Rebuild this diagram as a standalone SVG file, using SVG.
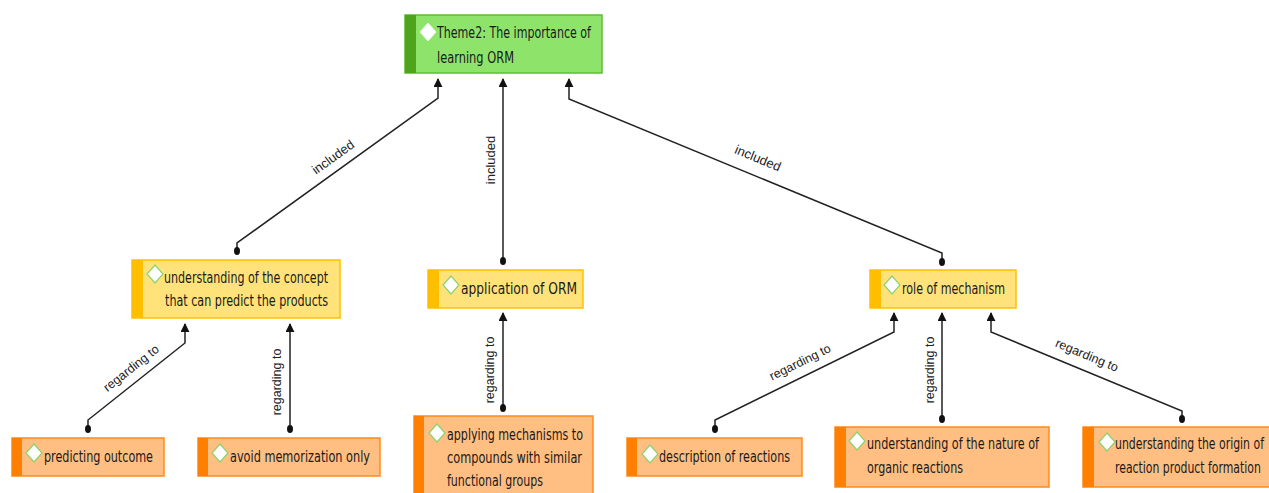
<svg xmlns="http://www.w3.org/2000/svg" width="1269" height="493" viewBox="0 0 1269 493">
<style>
.t{font-family:"DejaVu Sans Condensed","Liberation Sans Narrow",sans-serif;font-size:16px;fill:#1a1a1a}
.lbl{font-family:"Liberation Sans",Arial,sans-serif;font-size:12.5px;fill:#222}
.inc{font-family:"Liberation Sans",Arial,sans-serif;font-size:13px;fill:#222}
.g-box{fill:#8ee46b;stroke:#5cbf2e;stroke-width:1.5}
.g-bar{fill:#4ea51c}
.y-box{fill:#ffe37a;stroke:#ffc000;stroke-width:1.5}
.y-bar{fill:#ffbf00}
.o-box{fill:#ffbe82;stroke:#ff8a1a;stroke-width:1.5}
.o-bar{fill:#ff7f00}
.dia{fill:#fff;stroke:#8fd16a;stroke-width:1.2}
.dia0{fill:#fff;stroke:#e8ffe0;stroke-width:1}
.ln{fill:none;stroke:#222;stroke-width:1.5}
.dot{fill:#111}
</style>
<defs>
<marker id="arr" viewBox="0 0 10 10" refX="9" refY="5" markerWidth="9" markerHeight="9" markerUnits="userSpaceOnUse" orient="auto">
<path d="M0,0 L10,5 L0,10 z" fill="#111"/>
</marker>
</defs>

<g id="connectors">
<path class="ln" d="M237,251 V243 L438,98 V79" marker-end="url(#arr)"/>
<ellipse class="dot" cx="237" cy="251" rx="3" ry="4"/>
<text class="inc" transform="translate(333,157) rotate(-35.8)" text-anchor="middle" dy=".35em">included</text>

<path class="ln" d="M503,261 V79" marker-end="url(#arr)"/>
<ellipse class="dot" cx="503" cy="261" rx="3" ry="4"/>
<text class="inc" transform="translate(490,160) rotate(-90)" text-anchor="middle" dy=".35em">included</text>

<path class="ln" d="M942,262 V253 L569,99 V79" marker-end="url(#arr)"/>
<ellipse class="dot" cx="942" cy="262" rx="3" ry="4"/>
<text class="inc" transform="translate(758,158) rotate(22.4)" text-anchor="middle" dy=".35em">included</text>

<path class="ln" d="M88,429 V420 L185,343 V324" marker-end="url(#arr)"/>
<ellipse class="dot" cx="88" cy="429" rx="3" ry="4"/>
<text class="lbl" transform="translate(131,368) rotate(-38.4)" text-anchor="middle" dy=".35em">regarding to</text>

<path class="ln" d="M290,429 V324" marker-end="url(#arr)"/>
<ellipse class="dot" cx="290" cy="429" rx="3" ry="4"/>
<text class="lbl" transform="translate(277,382) rotate(-90)" text-anchor="middle" dy=".35em">regarding to</text>

<path class="ln" d="M503,408 V313" marker-end="url(#arr)"/>
<ellipse class="dot" cx="503" cy="408" rx="3" ry="4"/>
<text class="lbl" transform="translate(490,370) rotate(-90)" text-anchor="middle" dy=".35em">regarding to</text>

<path class="ln" d="M715,429 V420 L894,332 V313" marker-end="url(#arr)"/>
<ellipse class="dot" cx="715" cy="429" rx="3" ry="4"/>
<text class="lbl" transform="translate(800,362) rotate(-26.2)" text-anchor="middle" dy=".35em">regarding to</text>

<path class="ln" d="M942,419 V313" marker-end="url(#arr)"/>
<ellipse class="dot" cx="942" cy="419" rx="3" ry="4"/>
<text class="lbl" transform="translate(930,370) rotate(-90)" text-anchor="middle" dy=".35em">regarding to</text>

<path class="ln" d="M1182,419 V411 L991,332 V313" marker-end="url(#arr)"/>
<ellipse class="dot" cx="1182" cy="419" rx="3" ry="4"/>
<text class="lbl" transform="translate(1087,355) rotate(22.5)" text-anchor="middle" dy=".35em">regarding to</text>
</g>

<g id="theme">
<rect class="g-box" x="405" y="15" width="197" height="58"/>
<rect class="g-bar" x="405" y="15" width="11" height="58"/>
<path class="dia0" d="M428,23 L436,32 L428,41 L420,32 z"/>
<text class="t" x="437" y="38" textLength="154" lengthAdjust="spacingAndGlyphs">Theme2: The importance of</text>
<text class="t" x="437" y="63" textLength="77" lengthAdjust="spacingAndGlyphs">learning ORM</text>
</g>

<g id="concept">
<rect class="y-box" x="132" y="260" width="208" height="58"/>
<rect class="y-bar" x="132" y="260" width="11" height="58"/>
<path class="dia" d="M155,265 L163,274 L155,283 L147,274 z"/>
<text class="t" x="164" y="283" textLength="164" lengthAdjust="spacingAndGlyphs">understanding of the concept</text>
<text class="t" x="165" y="306" textLength="163" lengthAdjust="spacingAndGlyphs">that can predict the products</text>
</g>

<g id="application">
<rect class="y-box" x="428" y="270" width="155" height="38"/>
<rect class="y-bar" x="428" y="270" width="11" height="38"/>
<path class="dia" d="M451,276 L459,285 L451,294 L443,285 z"/>
<text class="t" x="461" y="294" textLength="116" lengthAdjust="spacingAndGlyphs">application of ORM</text>
</g>

<g id="role">
<rect class="y-box" x="870" y="270" width="146" height="38"/>
<rect class="y-bar" x="870" y="270" width="11" height="38"/>
<path class="dia" d="M892,276 L900,285 L892,294 L884,285 z"/>
<text class="t" x="902" y="294" textLength="103" lengthAdjust="spacingAndGlyphs">role of mechanism</text>
</g>

<g id="predicting">
<rect class="o-box" x="12" y="438" width="152" height="38"/>
<rect class="o-bar" x="12" y="438" width="10" height="38"/>
<path class="dia" d="M34,444 L42,453 L34,462 L26,453 z"/>
<text class="t" x="44" y="462" textLength="109" lengthAdjust="spacingAndGlyphs">predicting outcome</text>
</g>

<g id="avoid">
<rect class="o-box" x="198" y="438" width="182" height="38"/>
<rect class="o-bar" x="198" y="438" width="10" height="38"/>
<path class="dia" d="M220,444 L228,453 L220,462 L212,453 z"/>
<text class="t" x="230" y="462" textLength="140" lengthAdjust="spacingAndGlyphs">avoid memorization only</text>
</g>

<g id="applying">
<rect class="o-box" x="414" y="416" width="179" height="82"/>
<rect class="o-bar" x="414" y="416" width="10" height="82"/>
<path class="dia" d="M437,424 L445,433 L437,442 L429,433 z"/>
<text class="t" x="447" y="440" textLength="136" lengthAdjust="spacingAndGlyphs">applying mechanisms to</text>
<text class="t" x="447" y="463" textLength="135" lengthAdjust="spacingAndGlyphs">compounds with similar</text>
<text class="t" x="447" y="486" textLength="96" lengthAdjust="spacingAndGlyphs">functional groups</text>
</g>

<g id="description">
<rect class="o-box" x="627" y="438" width="175" height="38"/>
<rect class="o-bar" x="627" y="438" width="10" height="38"/>
<path class="dia" d="M650,445 L658,454 L650,463 L642,454 z"/>
<text class="t" x="659" y="462" textLength="131" lengthAdjust="spacingAndGlyphs">description of reactions</text>
</g>

<g id="nature">
<rect class="o-box" x="835" y="427" width="214" height="60"/>
<rect class="o-bar" x="835" y="427" width="11" height="60"/>
<path class="dia" d="M857,432 L865,441 L857,450 L849,441 z"/>
<text class="t" x="867" y="449" textLength="172" lengthAdjust="spacingAndGlyphs">understanding of the nature of</text>
<text class="t" x="867" y="473" textLength="96" lengthAdjust="spacingAndGlyphs">organic reactions</text>
</g>

<g id="origin">
<rect class="o-box" x="1083" y="427" width="187" height="60"/>
<rect class="o-bar" x="1083" y="427" width="11" height="60"/>
<path class="dia" d="M1107,433 L1115,442 L1107,451 L1099,442 z"/>
<text class="t" transform="translate(1115,449) scale(0.78,1)" textLength="191" lengthAdjust="spacingAndGlyphs">understanding the origin of</text>
<text class="t" transform="translate(1115,473) scale(0.78,1)" textLength="187" lengthAdjust="spacingAndGlyphs">reaction product formation</text>
</g>
</svg>
